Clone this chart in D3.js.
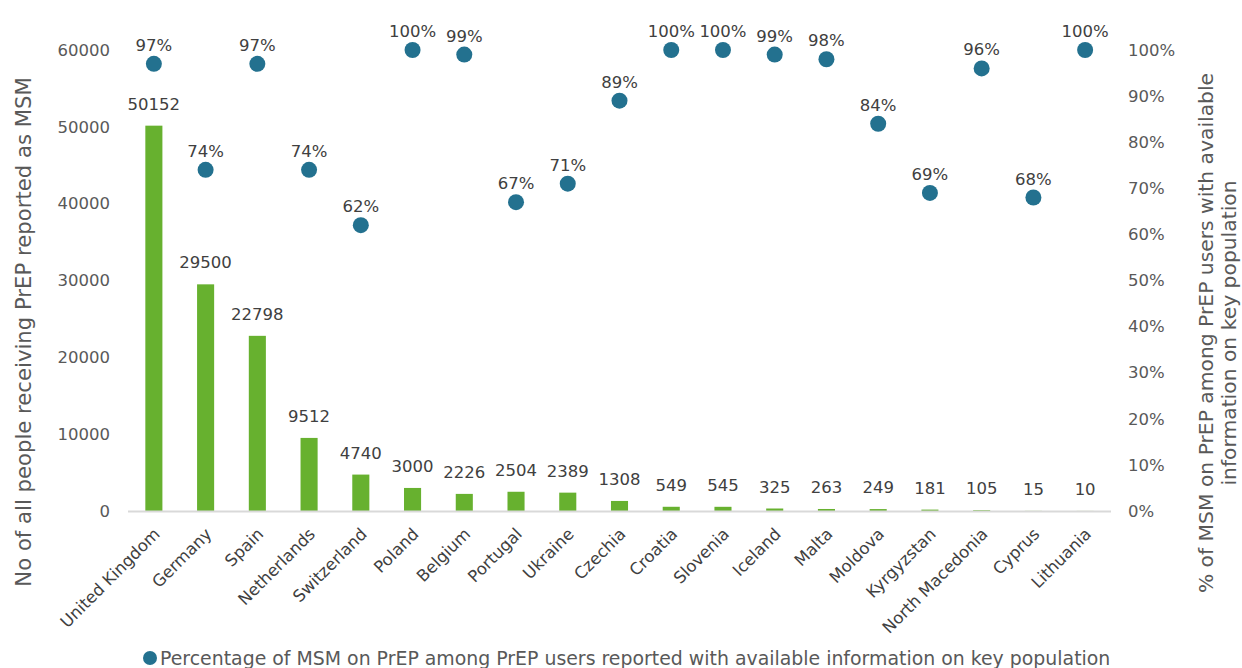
<!DOCTYPE html>
<html><head><meta charset="utf-8">
<script src="https://cdn.jsdelivr.net/npm/d3@7"></script>
<style>
html,body{margin:0;padding:0;background:#fff;}
text{font-family:"DejaVu Sans",Verdana,sans-serif;}
</style></head>
<body>
<svg id="chart" width="1242" height="668"></svg>
<script>
const countries = ["United Kingdom","Germany","Spain","Netherlands","Switzerland","Poland","Belgium","Portugal","Ukraine","Czechia","Croatia","Slovenia","Iceland","Malta","Moldova","Kyrgyzstan","North Macedonia","Cyprus","Lithuania"];
const msmCounts = [50152,29500,22798,9512,4740,3000,2226,2504,2389,1308,549,545,325,263,249,181,105,15,10];
const msmPercent = [97,74,97,74,62,100,99,67,71,89,100,100,99,98,84,69,96,68,100];
const leftTicks = [0,10000,20000,30000,40000,50000,60000];
const rightTicks = [0,10,20,30,40,50,60,70,80,90,100];
const leftTitle = "No of all people receiving PrEP reported as MSM";
const rightTitleLines = ["% of MSM on PrEP among PrEP users with available","information on key population"];
const legendLabel = "Percentage of MSM on PrEP among PrEP users reported with available information on key population";

const svg = d3.select("#chart");
const mLeft = 128, mRight = 1111, mTop = 50, mBottom = 511;
const barColor = "#67b12f", dotColor = "#23718f", textColor = "#404040", tickColor = "#595959";

const x = d3.scaleBand().domain(countries).range([mLeft, mRight]).paddingInner(0.67).paddingOuter(0.335);
const y = d3.scaleLinear().domain([0, 60000]).range([mBottom, mTop]);
const y2 = d3.scaleLinear().domain([0, 100]).range([mBottom, mTop]);
const cx = d => x(d) + x.bandwidth() / 2;

// bars
svg.append("g").selectAll("rect").data(countries).join("rect")
  .attr("x", d => x(d)).attr("width", x.bandwidth())
  .attr("y", (d, i) => y(msmCounts[i])).attr("height", (d, i) => mBottom - y(msmCounts[i]))
  .attr("fill", barColor);

// baseline
svg.append("line").attr("x1", mLeft).attr("x2", mRight).attr("y1", mBottom + 0.5).attr("y2", mBottom + 0.5)
  .attr("stroke", "#d9d9d9").attr("stroke-width", 2);

// bar labels
svg.append("g").selectAll("text").data(countries).join("text")
  .attr("x", cx).attr("y", (d, i) => y(msmCounts[i]) - 16)
  .attr("text-anchor", "middle").attr("font-size", 16.5).attr("fill", textColor)
  .text((d, i) => msmCounts[i]);

// dots
svg.append("g").selectAll("circle").data(countries).join("circle")
  .attr("cx", cx).attr("cy", (d, i) => y2(msmPercent[i])).attr("r", 8)
  .attr("fill", dotColor);

svg.append("g").selectAll("text").data(countries).join("text")
  .attr("x", cx).attr("y", (d, i) => y2(msmPercent[i]) - 13)
  .attr("text-anchor", "middle").attr("font-size", 16.5).attr("fill", textColor)
  .text((d, i) => msmPercent[i] + "%");

// left axis
const ax = svg.append("g").attr("transform", `translate(${mLeft},0)`)
  .call(d3.axisLeft(y).tickValues(leftTicks).tickSize(0).tickPadding(18).tickFormat(d3.format("d")));
ax.select(".domain").remove();
ax.selectAll("text").attr("font-size", 16.5).attr("fill", tickColor).style("font-family", '"DejaVu Sans",Verdana,sans-serif');

// right axis
const ax2 = svg.append("g").attr("transform", `translate(${mRight},0)`)
  .call(d3.axisRight(y2).tickValues(rightTicks).tickSize(0).tickPadding(17).tickFormat(d => d + "%"));
ax2.select(".domain").remove();
ax2.selectAll("text").attr("font-size", 16.5).attr("fill", tickColor).style("font-family", '"DejaVu Sans",Verdana,sans-serif');

// category labels
svg.append("g").selectAll("text").data(countries).join("text")
  .attr("transform", d => `translate(${cx(d) + 3},${mBottom + 20}) rotate(-45)`)
  .attr("text-anchor", "end").attr("dy", "0.35em")
  .attr("font-size", 16.5).attr("fill", textColor).text(d => d);

// axis titles
svg.append("text").attr("transform", `translate(31,332) rotate(-90)`)
  .attr("text-anchor", "middle").attr("font-size", 21.2).attr("fill", tickColor).text(leftTitle);
svg.append("g").attr("transform", `translate(1213,333) rotate(-90)`)
  .selectAll("text").data(rightTitleLines).join("text")
  .attr("x", 0).attr("y", (d, i) => i * 23)
  .attr("text-anchor", "middle").attr("font-size", 20.3).attr("fill", tickColor).text(d => d);

// legend
const lg = svg.append("g").attr("transform", "translate(150,658)");
lg.append("circle").attr("cx", 0).attr("cy", 0).attr("r", 7).attr("fill", dotColor);
lg.append("text").attr("x", 10).attr("y", 0).attr("dy", "0.35em")
  .attr("font-size", 18.9).attr("fill", tickColor).text(legendLabel);
</script>
</body></html>
